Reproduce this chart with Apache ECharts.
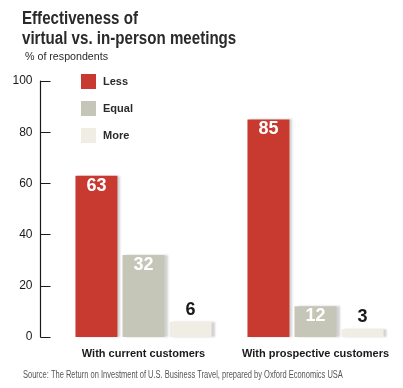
<!DOCTYPE html>
<html><head><meta charset="utf-8">
<script src="https://cdn.jsdelivr.net/npm/echarts@6/dist/echarts.min.js"></script>
<style>html,body{margin:0;padding:0;background:#fff}#c{width:403px;height:388px}</style>
</head><body><div id="c"></div>
<script>
const categories = ['With current customers', 'With prospective customers'];
const seriesNames = ['Less', 'Equal', 'More'];
const lessValues = [63, 85];
const equalValues = [32, 12];
const moreValues = [6, 3];
const yTicks = [0, 20, 40, 60, 80, 100];
const titleLines = ['Effectiveness of', 'virtual vs. in-person meetings'];
const subtitle = '% of respondents';
const sourceText = 'Source: The Return on Investment of U.S. Business Travel, prepared by Oxford Economics USA';

const F = '"Liberation Sans",Arial,sans-serif';
const colors = ['#c83a2f', '#c5c6b8', '#f0eee4'];
const labelColors = ['#ffffff', '#ffffff', '#1a1a1a'];
const vals = [lessValues, equalValues, moreValues];

const chart = echarts.init(document.getElementById('c'), null, {renderer: 'canvas'});
chart.setOption({
  animation: false,
  backgroundColor: '#ffffff',
  graphic: [
    {type: 'text', left: 22, top: 9, scaleX: 0.84,
     style: {text: titleLines.join('\n'), font: 'bold 18px ' + F, fill: '#2a2a2a', lineHeight: 20}},
    {type: 'text', left: 25, top: 51, scaleX: 0.97,
     style: {text: subtitle, font: '11px ' + F, fill: '#2a2a2a'}},
    {type: 'text', left: 23, top: 370, scaleX: 0.75,
     style: {text: sourceText, font: '10px ' + F, fill: '#555555'}}
  ],
  legend: {
    orient: 'vertical', left: 76, top: 69, itemWidth: 15, itemHeight: 15, itemGap: 12,
    data: seriesNames, icon: 'rect',
    textStyle: {fontFamily: F, fontSize: 11, fontWeight: 'bold', color: '#2a2a2a', padding: [0,0,0,2]}
  },
  grid: {left: 57.5, right: 1.5, top: 81, bottom: 51},
  xAxis: {
    type: 'category', data: categories,
    axisLine: {show: false}, axisTick: {show: false},
    axisLabel: {interval: 0, fontFamily: F, fontSize: 11, fontWeight: 'bold', color: '#1a1a1a', margin: 11}
  },
  yAxis: {
    type: 'value', min: 0, max: 100, interval: 20, offset: 17,
    axisLine: {show: true, lineStyle: {color: '#1a1a1a', width: 1.2}},
    axisTick: {show: true, inside: true, length: 10, lineStyle: {color: '#1a1a1a'}},
    splitLine: {show: false},
    axisLabel: {fontFamily: F, fontSize: 12, color: '#1a1a1a', margin: 8,
      formatter: v => yTicks.includes(v) ? String(v) : ''}
  },
  series: seriesNames.map((name, i) => ({
    name, type: 'bar', data: vals[i], barWidth: 42, barGap: '12%',
    itemStyle: {color: colors[i], shadowColor: 'rgba(0,0,0,0.18)', shadowOffsetX: 3, shadowOffsetY: 0, shadowBlur: 2},
    label: {
      show: true, position: i === 2 ? 'top' : 'insideTop', distance: i === 2 ? 3 : 1,
      fontFamily: F, fontSize: 18, fontWeight: 'bold', color: labelColors[i]
    }
  }))
});
</script></body></html>
